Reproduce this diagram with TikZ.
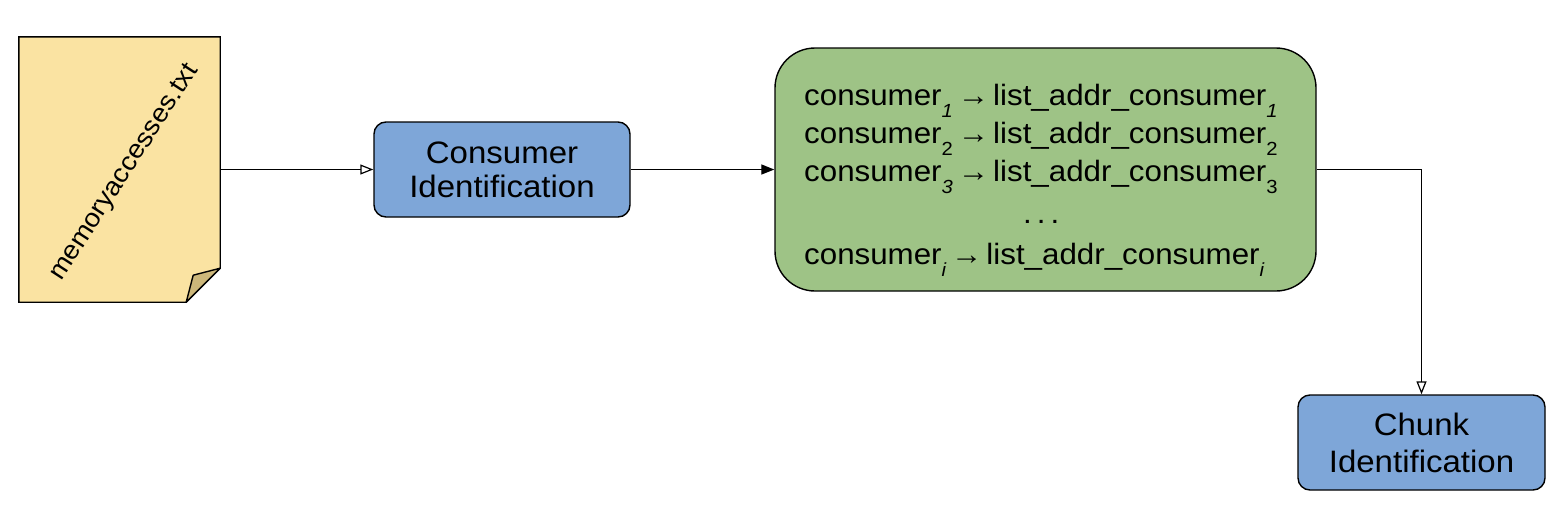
\documentclass[tikz,border=0pt]{standalone}
\usepackage{fontspec}
\setmainfont[FakeStretch=1.065]{Liberation Sans}
\usetikzlibrary{arrows.meta}
\definecolor{fileyellow}{HTML}{FAE3A2}
\definecolor{flaptan}{HTML}{CCB77A}
\definecolor{boxblue}{HTML}{7EA6D8}
\definecolor{boxgreen}{HTML}{9EC386}
\newcommand{\subsc}[1]{\raisebox{-0.42em}{\fontsize{19}{19}\selectfont #1}}
\newcommand{\mapsarrow}{\hspace{5pt}→\hspace{4pt}}
\tikzset{
  procbox/.style={draw=black, line width=1.4pt, fill=boxblue, rounded corners=12pt,
    align=center, inner sep=0pt, font=\fontsize{31}{37}\selectfont},
  mapbox/.style={draw=black, line width=1.4pt, fill=boxgreen, rounded corners=40pt,
    inner sep=0pt},
  conn/.style={line width=1.3pt},
  openhead/.style={-{Triangle[open, length=13pt, width=10pt, line width=1.2pt]}},
  fullhead/.style={-{Triangle[length=13pt, width=10pt]}}
}
\begin{document}
\begin{tikzpicture}[x=1pt, y=-1pt]
\useasboundingbox (0,0) rectangle (1564,514);
% file
\node[minimum width=201pt, minimum height=265pt, inner sep=0pt] (file) at (119.5,169.5) {};
\draw[line width=1.4pt, fill=fileyellow] (file.north west) -- (file.north east)
  -- ([yshift=34pt]file.south east) -- ([xshift=-34pt]file.south east) -- (file.south west) -- cycle;
\draw[line width=1.4pt, fill=flaptan, line join=round] ([xshift=-34pt]file.south east)
  -- ([xshift=-27pt, yshift=27pt]file.south east) -- ([yshift=34pt]file.south east) -- cycle;
\node[rotate=57, font=\fontsize{26}{30}\selectfont, inner sep=0pt] (fname) at (125,173) {memoryaccesses.txt};
% boxes
\node[procbox, minimum width=256pt, minimum height=95pt] (cons) at (502,169.5) {\raisebox{-3pt}{Consumer}\\Identification};
\node[mapbox, minimum width=541pt, minimum height=243pt] (map) at (1045.5,169.5) {};
\node[procbox, minimum width=247pt, minimum height=95pt] (chunk) at (1421.5,442.5) {Chunk\\Identification};
% map text
\node[anchor=north west, align=left, inner sep=0pt, font=\fontsize{29.4}{38}\selectfont] (maptext) at (804,83.5)
 {consumer\subsc{\itshape 1}\mapsarrow list\_addr\_consumer\subsc{\itshape 1}\\
  consumer\subsc{2}\mapsarrow list\_addr\_consumer\subsc{2}\\
  consumer\subsc{\itshape 3}\mapsarrow list\_addr\_consumer\subsc{3}\\[4.5pt]
  \hspace*{219pt}.\hspace{5pt}.\hspace{5pt}.\\[3pt]
  consumer\subsc{\itshape i}\mapsarrow list\_addr\_consumer\subsc{\itshape i}};
% connectors
\draw[conn, openhead] (file.east) -- (cons.west);
\draw[conn, fullhead] (cons.east) -- (map.west);
\coordinate (bend) at (chunk.north |- map.east);
\draw[conn, openhead] (map.east) -- (bend) -- (chunk.north);
\end{tikzpicture}
\end{document}
